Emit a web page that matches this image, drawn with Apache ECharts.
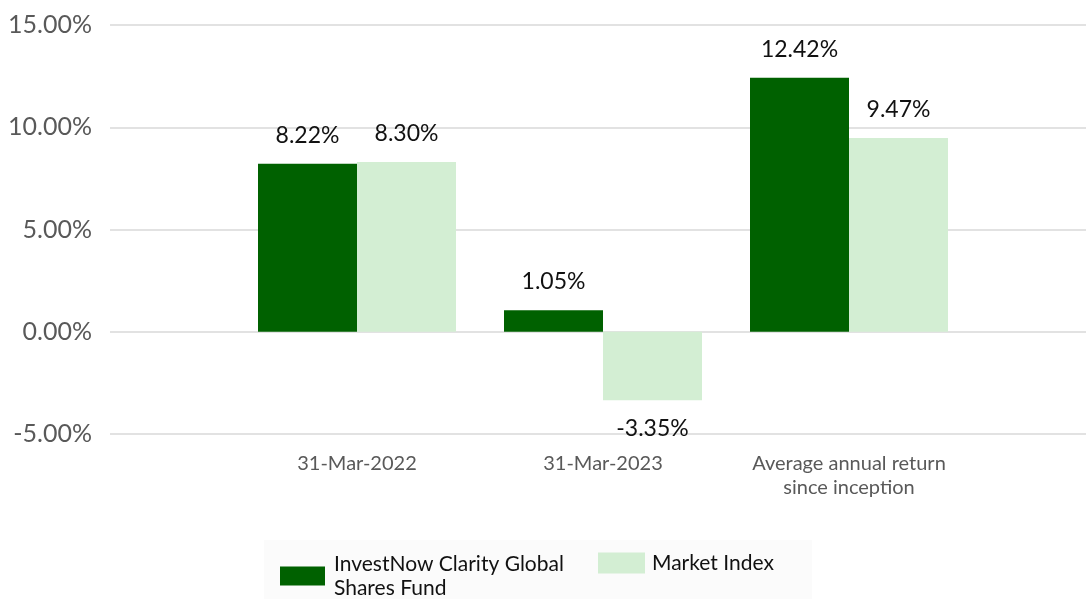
<!DOCTYPE html>
<html>
<head>
<meta charset="utf-8">
<script src="https://cdn.jsdelivr.net/npm/echarts@6/dist/echarts.min.js"></script>
<style>
  html, body { margin: 0; padding: 0; background: #fff; }
  #chart { width: 1087px; height: 599px; }
</style>
</head>
<body>
<div id="chart"></div>
<script>
const categories = ['31-Mar-2022', '31-Mar-2023', 'Average annual return\nsince inception']
const fundName = 'InvestNow Clarity Global\nShares Fund'
const indexName = 'Market Index'
const fundValues = [8.22, 1.05, 12.42]
const indexValues = [8.30, -3.35, 9.47]
const yTicks = { min: -5, max: 15, interval: 5 }

const FONT = 'Lato, "Noto Sans", sans-serif'
const DARK = '#006100'
const LIGHT = '#d3eed3'

const chart = echarts.init(document.getElementById('chart'))

// label sits above positive bars and below negative ones
function withLabels(values) {
  return values.map(v => ({
    value: v,
    label: { position: v < 0 ? 'bottom' : 'top' },
  }))
}

const labelStyle = {
  show: true,
  distance: 17,
  fontFamily: FONT,
  fontSize: 23,
  color: '#111',
  formatter: p => p.value.toFixed(2) + '%',
}

chart.setOption({
  animation: false,
  textStyle: { fontFamily: FONT },
  graphic: [
    {
      type: 'rect',
      left: 264,
      top: 540,
      shape: { width: 548, height: 59 },
      style: { fill: '#fbfbfb' },
      z: -1,
    },
  ],
  grid: [
    // gridlines and y labels span the full width
    { left: 110, right: 1, top: 25, bottom: 165 },
    // bars live in a narrower band
    { left: 234, width: 738, top: 25, bottom: 165 },
  ],
  xAxis: [
    { type: 'category', gridIndex: 0, data: [''], show: false },
    {
      type: 'category',
      gridIndex: 1,
      data: categories,
      axisLine: { show: false },
      axisTick: { show: false },
      axisLabel: {
        color: '#595959',
        fontFamily: FONT,
        fontSize: 20,
        lineHeight: 24,
        margin: 18,
        interval: 0,
      },
    },
  ],
  yAxis: [
    {
      type: 'value',
      gridIndex: 0,
      min: yTicks.min,
      max: yTicks.max,
      interval: yTicks.interval,
      axisLine: { show: false },
      axisTick: { show: false },
      splitLine: { lineStyle: { color: '#d9d9d9', width: 1.5 } },
      axisLabel: {
        color: '#595959',
        fontFamily: FONT,
        fontSize: 25,
        margin: 18,
        formatter: v => v.toFixed(2) + '%',
      },
    },
    {
      type: 'value',
      gridIndex: 1,
      min: yTicks.min,
      max: yTicks.max,
      interval: yTicks.interval,
      show: false,
      splitLine: { show: false },
    },
  ],
  legend: [
    {
      data: [fundName],
      left: 280,
      top: 552,
      padding: 0,
      itemWidth: 45,
      itemHeight: 19,
      icon: 'rect',
      textStyle: { fontFamily: FONT, fontSize: 21, lineHeight: 24, color: '#111', padding: [0, 0, 0, 4] },
    },
    {
      data: [indexName],
      left: 598,
      top: 551,
      padding: 0,
      itemWidth: 47,
      itemHeight: 21,
      icon: 'rect',
      textStyle: { fontFamily: FONT, fontSize: 21, lineHeight: 24, color: '#111', padding: [0, 0, 0, 2] },
    },
  ],
  series: [
    {
      name: fundName,
      type: 'bar',
      xAxisIndex: 1,
      yAxisIndex: 1,
      barWidth: 99,
      barGap: '0%',
      itemStyle: { color: DARK },
      label: labelStyle,
      data: withLabels(fundValues),
    },
    {
      name: indexName,
      type: 'bar',
      xAxisIndex: 1,
      yAxisIndex: 1,
      barWidth: 99,
      barGap: '0%',
      itemStyle: { color: LIGHT },
      label: labelStyle,
      data: withLabels(indexValues),
    },
  ],
})
</script>
</body>
</html>
